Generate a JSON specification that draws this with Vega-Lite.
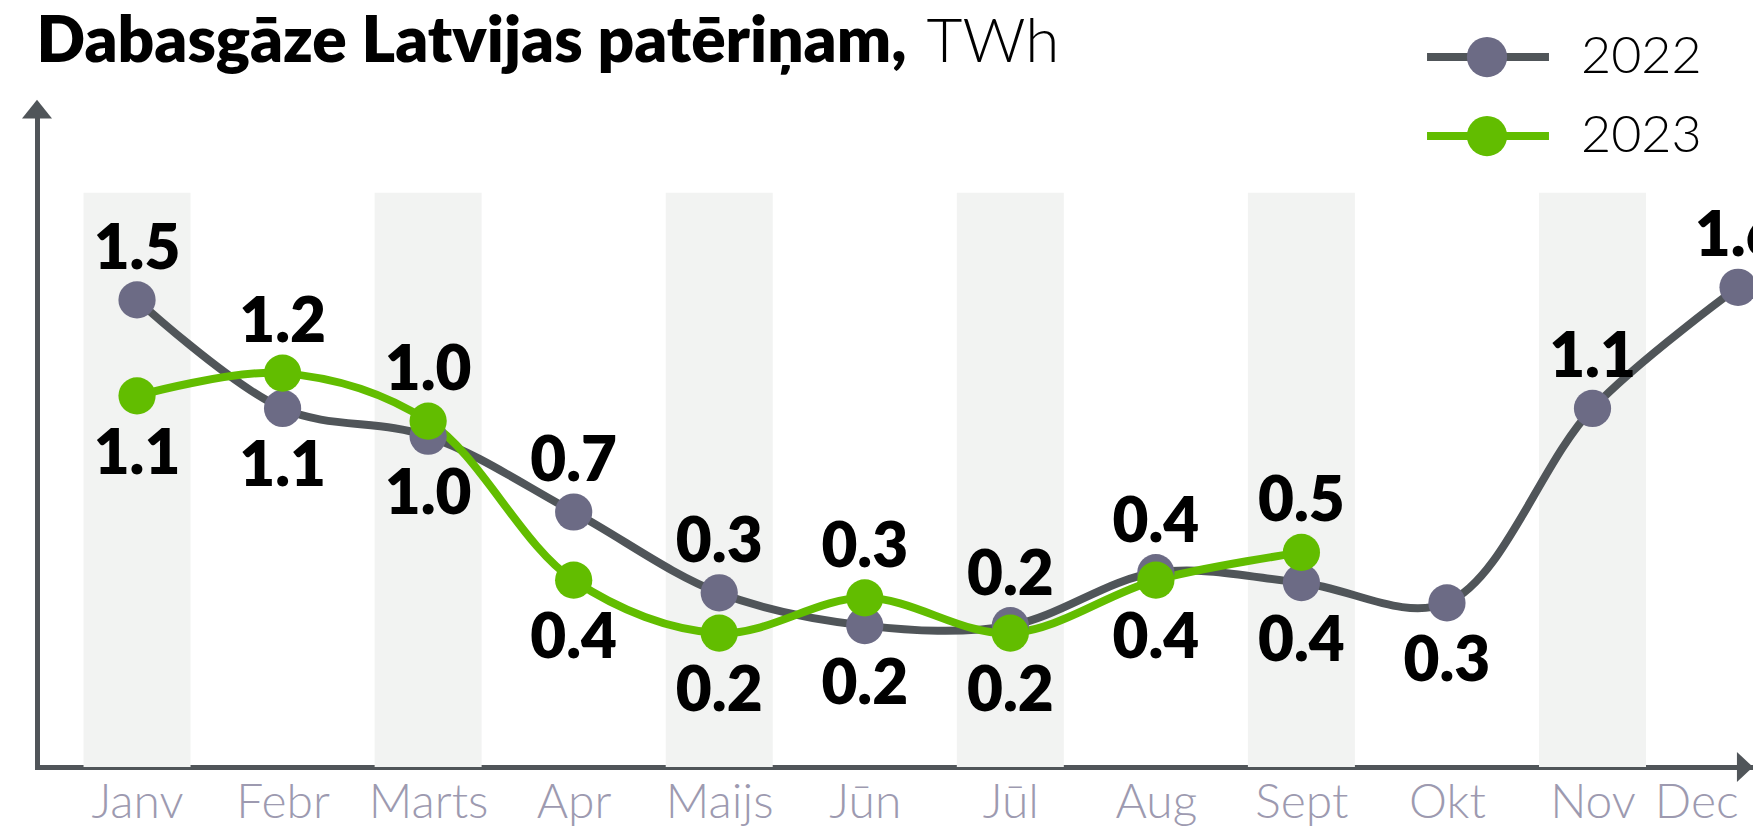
{
  "$schema": "https://vega.github.io/schema/vega-lite/v6.json",
  "width": 1716,
  "height": 659,
  "autosize": {"type": "none"},
  "padding": {"left": 37, "top": 108, "right": 0, "bottom": 59},
  "background": "white",
  "config": {
    "view": {"stroke": null},
    "font": "Lato",
    "axisX": {"labelFontSize": 48, "labelColor": "#9d9ab0", "labelFontWeight": 300, "labelFont": "Lato", "labelPadding": 50, "labelBaseline": "alphabetic", "labelAngle": 0, "labelDx": -12, "ticks": false, "tickSize": 0, "grid": false, "domainColor": "#505559", "domainWidth": 5, "domainCap": "square",
              "titleX": -1, "titleY": -706, "titleAlign": "left", "titleAnchor": "start", "titleBaseline": "alphabetic", "titleAngle": 0, "titleFontSize": 64, "titleFontWeight": 800, "titleColor": "#000000", "titleFont": "Lato"},
    "axisY": {"labels": false, "ticks": false, "tickSize": 0, "grid": false, "domainColor": "#505559", "domainWidth": 5, "domainCap": "square", "titleAngle": 0, "titleX": 889, "titleY": -47, "titleAlign": "left", "titleBaseline": "alphabetic", "titleFontSize": 62, "titleFontWeight": 300, "titleColor": "#000000", "titleFont": "Lato"}
  },
  "datasets": {
    "gas": [
      {"month": "Janv", "year": "2022", "value": 1.50},
      {"month": "Febr", "year": "2022", "value": 1.07},
      {"month": "Marts", "year": "2022", "value": 0.96},
      {"month": "Apr", "year": "2022", "value": 0.66},
      {"month": "Maijs", "year": "2022", "value": 0.34},
      {"month": "Jūn", "year": "2022", "value": 0.21},
      {"month": "Jūl", "year": "2022", "value": 0.21},
      {"month": "Aug", "year": "2022", "value": 0.42},
      {"month": "Sept", "year": "2022", "value": 0.38},
      {"month": "Okt", "year": "2022", "value": 0.30},
      {"month": "Nov", "year": "2022", "value": 1.07},
      {"month": "Dec", "year": "2022", "value": 1.55},
      {"month": "Janv", "year": "2023", "value": 1.12},
      {"month": "Febr", "year": "2023", "value": 1.21},
      {"month": "Marts", "year": "2023", "value": 1.02},
      {"month": "Apr", "year": "2023", "value": 0.39},
      {"month": "Maijs", "year": "2023", "value": 0.18},
      {"month": "Jūn", "year": "2023", "value": 0.32},
      {"month": "Jūl", "year": "2023", "value": 0.18},
      {"month": "Aug", "year": "2023", "value": 0.39},
      {"month": "Sept", "year": "2023", "value": 0.50}
    ],
    "bands": [
      {"month": "Janv"}, {"month": "Marts"}, {"month": "Maijs"}, {"month": "Jūl"}, {"month": "Sept"}, {"month": "Nov"}
    ]
  },
  "layer": [
    {
      "encoding": {
        "x": {"field": "month", "type": "ordinal",
              "scale": {"type": "point", "domain": ["Janv", "Febr", "Marts", "Apr", "Maijs", "Jūn", "Jūl", "Aug", "Sept", "Okt", "Nov", "Dec"], "padding": 0.395, "align": 0.87},
              "axis": {"title": "Dabasgāze Latvijas patēriņam,", "labelAlign": {"condition": {"test": "datum.value === 'Dec'", "value": "right"}, "value": "center"}}}
      },
      "layer": [
        {
          "data": {"name": "bands"},
          "mark": {"type": "bar", "width": 107, "color": "#f2f3f2"},
          "encoding": {
            "y": {"datum": 1.924, "type": "quantitative"},
            "y2": {"datum": -0.35}
          }
        },
        {
          "data": {"name": "gas"},
          "mark": {"type": "line", "interpolate": "catmull-rom", "strokeWidth": 8, "strokeCap": "round"},
          "encoding": {
            "y": {"field": "value", "type": "quantitative", "title": "TWh", "scale": {"domain": [-0.35, 2.26], "nice": false, "zero": false}},
            "stroke": {"field": "year", "type": "nominal",
                       "scale": {"range": ["#505559", "#62bd00"]},
                       "legend": {"orient": "none", "legendX": 1425, "legendY": -77, "title": null, "symbolType": "M-8.13,0 H8.13", "symbolSize": 225, "symbolStrokeWidth": 8, "labelFontSize": 52, "labelFont": "Lato", "labelFontWeight": 300, "labelColor": "#000000", "labelOffset": 67, "rowPadding": 27, "padding": 0, "symbolOpacity": 1}}
          }
        },
        {
          "data": {"name": "gas"},
          "mark": {"type": "circle", "size": 1385, "opacity": 1},
          "encoding": {
            "y": {"field": "value", "type": "quantitative", "title": "TWh"},
            "fill": {"field": "year", "type": "nominal",
                     "scale": {"domain": ["2022", "2023"], "range": ["#6c6b85", "#62bd00"]},
                     "legend": {"orient": "none", "legendX": 1424, "legendY": -77, "title": null, "symbolType": "circle", "symbolSize": 1620, "symbolStrokeWidth": 0, "labelFontSize": 52, "labelFont": "Lato", "labelExpr": "''", "labelOffset": 36, "rowPadding": 27, "padding": 0, "symbolOpacity": 1}}
          }
        },
        {
          "data": {"name": "gas"},
          "transform": [
            {"joinaggregate": [{"op": "max", "field": "value", "as": "monthMax"}], "groupby": ["month"]},
            {"filter": "datum.value === datum.monthMax && datum.month !== 'Okt'"}
          ],
          "mark": {"type": "text", "fontSize": 62, "fontWeight": 800, "font": "Lato", "color": "#000000", "baseline": "middle", "dy": -50},
          "encoding": {
            "y": {"field": "value", "type": "quantitative", "title": "TWh"},
            "text": {"field": "value", "format": ".1f"}
          }
        },
        {
          "data": {"name": "gas"},
          "transform": [
            {"joinaggregate": [{"op": "max", "field": "value", "as": "monthMax"}], "groupby": ["month"]},
            {"filter": "datum.value < datum.monthMax || datum.month === 'Okt'"}
          ],
          "mark": {"type": "text", "fontSize": 62, "fontWeight": 800, "font": "Lato", "color": "#000000", "baseline": "middle", "dy": 59},
          "encoding": {
            "y": {"field": "value", "type": "quantitative", "title": "TWh"},
            "text": {"field": "value", "format": ".1f"}
          }
        }
      ]
    },
    {
      "data": {"values": [{}]},
      "layer": [
        {
          "mark": {"type": "point", "shape": "M0,-0.55 L1,0.7 L-1,0.7 Z", "size": 900, "filled": true, "color": "#505559", "opacity": 1, "strokeWidth": 0},
          "encoding": {
            "x": {"datum": 0, "type": "quantitative", "scale": {"domain": [0, 1], "nice": false, "zero": false}, "axis": null},
            "y": {"datum": 2.26, "type": "quantitative"}
          }
        },
        {
          "mark": {"type": "point", "shape": "M0,0 L-1.07,-1 L-1.07,1 Z", "size": 900, "filled": true, "color": "#505559", "opacity": 1, "strokeWidth": 0},
          "encoding": {
            "x": {"datum": 1, "type": "quantitative", "scale": {"domain": [0, 1], "nice": false, "zero": false}, "axis": null},
            "y": {"datum": -0.35, "type": "quantitative"}
          }
        }
      ]
    }
  ],
  "resolve": {"scale": {"x": "independent"}}
}
